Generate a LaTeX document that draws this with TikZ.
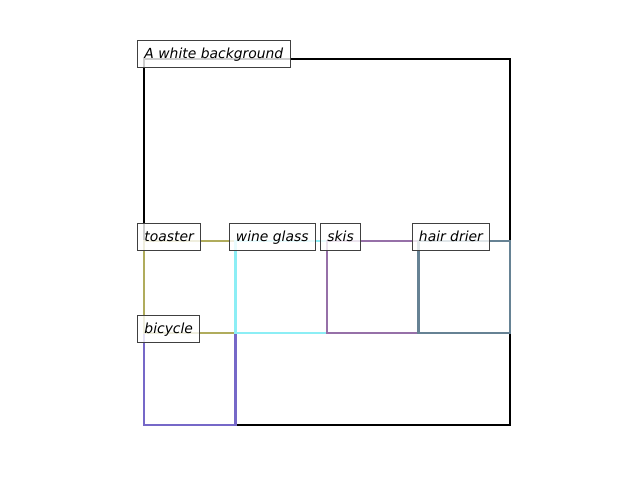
\documentclass[tikz,border=0pt]{standalone}
\usepackage{fontspec}
\setmainfont{DejaVu Sans}
\usepackage{tikz}

\definecolor{toastercol}{RGB}{176,172,92}
\definecolor{glasscol}{RGB}{140,238,245}
\definecolor{skiscol}{RGB}{150,112,168}
\definecolor{driercol}{RGB}{102,130,148}
\definecolor{bikecol}{RGB}{118,104,200}

\tikzset{
  bbox/.style={line width=1.8pt, line join=miter},
  tag/.style={draw={rgb,255:red,64;green,64;blue,64}, line width=0.72pt, fill=white, fill opacity=0.8, text opacity=1,
    anchor=north west, inner xsep=5pt, inner ysep=0pt, text height=13pt, text depth=6.44pt,
    font=\fontsize{10pt}{12pt}\selectfont\itshape},
}

\begin{document}
\begin{tikzpicture}[x=0.72pt,y=0.72pt,yscale=-1,xscale=1]
\useasboundingbox (0,0) rectangle (640,480);

%Shape: Rectangle [id:background]
\draw [bbox, color=black] (144,59) rectangle (510,425);
%Shape: Rectangle [id:bicycle]
\draw [bbox, color=bikecol] (144,333) rectangle (235.5,425);
%Shape: Rectangle [id:toaster]
\draw [bbox, color=toastercol] (144,241) rectangle (235.5,333);
%Shape: Rectangle [id:wineglass]
\draw [bbox, color=glasscol] (235.5,241) rectangle (327,333);
%Shape: Rectangle [id:skis]
\draw [bbox, color=skiscol] (327,241) rectangle (418.5,333);
%Shape: Rectangle [id:hairdrier]
\draw [bbox, color=driercol] (418.5,241) rectangle (510,333);

% Text Node
\node [tag] (lbgd) at (137,40) {A white background};
% Text Node
\node [tag] (ltoaster) at (137,223) {toaster};
% Text Node
\node [tag] (lglass) at (228.5,223) {wine glass};
% Text Node
\node [tag] (lskis) at (320,223) {skis};
% Text Node
\node [tag] (ldrier) at (411.5,223) {hair drier};
% Text Node
\node [tag] (lbike) at (137,315) {bicycle};

\end{tikzpicture}
\end{document}
